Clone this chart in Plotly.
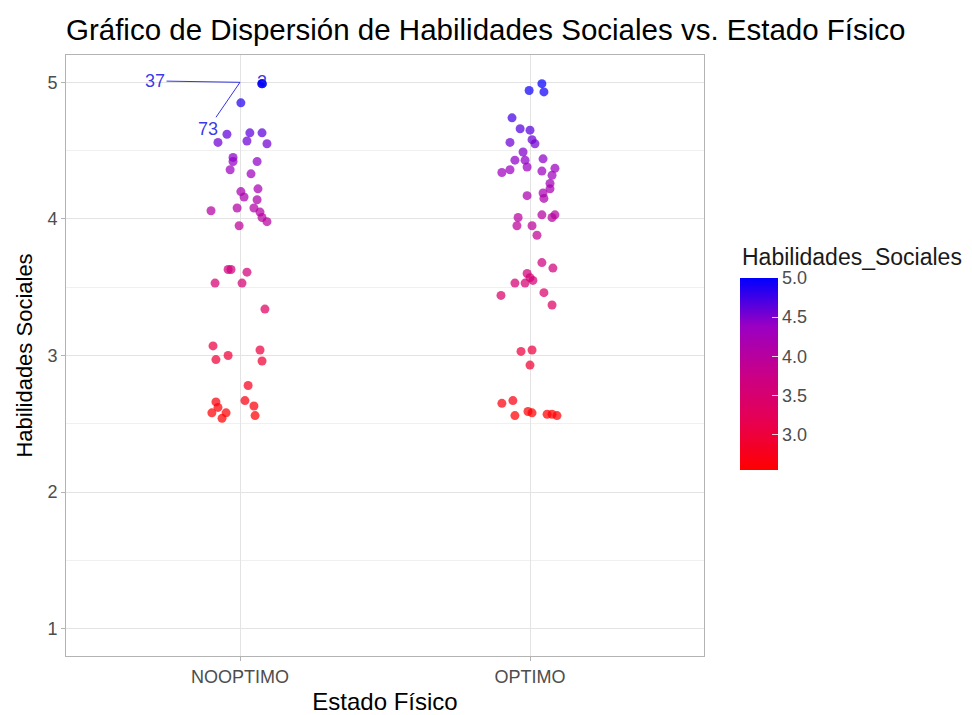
import plotly.graph_objects as go

categories = ["NOOPTIMO", "OPTIMO"]

# NOOPTIMO: values and horizontal jitter offsets
no_vals = [4.99, 4.99, 4.99, 4.85, 4.62, 4.56, 4.63, 4.63, 4.57, 4.55, 4.45, 4.42,
           4.36, 4.42, 4.33, 4.20, 4.16, 4.22, 4.14, 4.06, 4.08, 4.08, 4.05, 4.01,
           3.98, 3.95, 3.63, 3.63, 3.61, 3.53, 3.53, 3.34, 3.07, 3.04, 3.00, 2.97,
           2.96, 2.78, 2.67, 2.66, 2.62, 2.63, 2.58, 2.58, 2.54, 2.56]
no_jit = [0.075, 0.076, 0.077, 0.003, -0.045, -0.076, 0.034, 0.076, 0.024, 0.093, -0.024, -0.024,
          -0.034, 0.059, 0.038, 0.003, 0.014, 0.062, 0.059, -0.100, -0.010, 0.048, 0.069, 0.076,
          0.093, -0.003, -0.041, -0.031, 0.024, -0.086, 0.007, 0.086, -0.093, 0.069, -0.041, -0.083,
          0.076, 0.028, 0.017, -0.083, -0.076, 0.048, -0.097, -0.048, -0.062, 0.052]

# OPTIMO
op_vals = [4.94, 4.99, 4.93, 4.74, 4.66, 4.65, 4.56, 4.58, 4.55, 4.49, 4.43, 4.43,
           4.44, 4.38, 4.34, 4.36, 4.35, 4.37, 4.32, 4.26, 4.22, 4.17, 4.19, 4.15,
           4.01, 3.95, 4.03, 4.03, 4.01, 3.95, 3.88, 3.68, 3.64, 3.60, 3.57, 3.55,
           3.53, 3.53, 3.44, 3.46, 3.37, 3.03, 3.04, 2.93, 2.65, 2.67, 2.56, 2.59,
           2.58, 2.57, 2.57, 2.56]
op_jit = [-0.003, 0.041, 0.048, -0.062, -0.034, 0.0, -0.069, 0.007, 0.017, -0.024, -0.052, -0.017,
          0.045, -0.010, -0.097, -0.069, 0.041, 0.086, 0.076, 0.069, 0.069, -0.010, 0.045, 0.048,
          -0.041, -0.045, 0.041, 0.086, 0.076, 0.007, 0.024, 0.041, 0.079, -0.010, 0.0, 0.010,
          -0.017, -0.052, -0.100, 0.048, 0.076, -0.031, 0.007, 0.0, -0.097, -0.059, -0.052, -0.007,
          0.007, 0.059, 0.076, 0.093]

label_ids = ["37", "73", "3"]
label_text_pos = [(-0.293, 5.01), (-0.110, 4.66), (0.076, 5.0)]
label_point = (0, 5.0)

y_ticks = [1, 2, 3, 4, 5]
y_minor = [1.5, 2.5, 3.5, 4.5]
cb_ticks = [3.0, 3.5, 4.0, 4.5, 5.0]

xs = [0 + j for j in no_jit] + [1 + j for j in op_jit]
ys = no_vals + op_vals

colorscale = [[0, "#FF0000"], [0.25, "#E80050"], [0.5, "#C90088"], [0.75, "#9A00C3"], [1, "#0000FF"]]

FONT = "Liberation Sans, Arial, sans-serif"
LBL = "rgba(30,30,230,0.9)"

# page body has an 8px margin: figure coordinates = page coordinates - 8
W, H = 964, 707
L, R, T, B = 58, 268, 47, 59
PW = W - L - R
PH = H - T - B
CB_X = (732 - L) / PW

fig = go.Figure()
fig.add_trace(go.Scatter(
    x=xs, y=ys, mode="markers",
    marker=dict(
        size=9, color=ys, colorscale=colorscale, cmin=2.55, cmax=5.0, opacity=0.72,
        line=dict(width=0),
        colorbar=dict(
            x=CB_X, xanchor="left", xpad=0, ypad=0,
            y=(H - B - 462) / PH, yanchor="bottom",
            thickness=38, thicknessmode="pixels",
            len=192, lenmode="pixels",
            outlinewidth=0,
            tickvals=cb_ticks, ticktext=[f"{v:.1f}" for v in cb_ticks],
            ticks="inside", ticklen=6, tickcolor="rgba(255,255,255,0.8)",
            tickfont=dict(size=18, color="#4D4D4D", family=FONT),
        ),
    ),
    showlegend=False,
    hoverinfo="skip",
))

# colour-bar title
fig.add_annotation(x=CB_X, y=(H - B - 249) / PH, xref="paper", yref="paper",
                   xanchor="left", yanchor="middle", showarrow=False,
                   text="Habilidades_Sociales",
                   font=dict(size=23, color="#1a1a1a", family=FONT))

for lab, (tx, ty) in zip(label_ids, label_text_pos):
    if lab == "3":
        fig.add_annotation(x=tx, y=ty, text=lab, showarrow=False,
                           font=dict(size=18, color=LBL, family=FONT))
    else:
        fig.add_annotation(x=label_point[0], y=label_point[1], ax=tx, ay=ty,
                           axref="x", ayref="y", text=lab, showarrow=True,
                           arrowhead=0, arrowwidth=1, arrowcolor=LBL,
                           standoff=0, startstandoff=0,
                           font=dict(size=18, color=LBL, family=FONT))

fig.update_layout(
    width=W, height=H,
    margin=dict(l=L, r=R, t=T, b=B, autoexpand=False),
    plot_bgcolor="white", paper_bgcolor="white",
    font=dict(family=FONT),
    title=dict(text="Gráfico de Dispersión de Habilidades Sociales vs. Estado Físico",
               x=58 / W, xanchor="left", xref="container",
               y=1 - 22 / H, yanchor="middle", yref="container",
               font=dict(size=29.5, color="#000000", family=FONT)),
)
fig.update_xaxes(
    range=[-0.6, 1.6], tickvals=[0, 1], ticktext=categories,
    showgrid=True, gridcolor="#E3E3E3", gridwidth=1,
    zeroline=False, showline=True, mirror=True, linecolor="#B3B3B3", linewidth=1,
    ticks="outside", ticklen=4, tickcolor="#B3B3B3",
    tickfont=dict(size=18, color="#4D4D4D", family=FONT),
    title=dict(text="Estado Físico", font=dict(size=24, color="#000000", family=FONT), standoff=10),
)
fig.update_yaxes(
    range=[0.8, 5.2], tickvals=y_ticks,
    showgrid=True, gridcolor="#E3E3E3", gridwidth=1,
    minor=dict(tickvals=y_minor, showgrid=True, gridcolor="#F0F0F0", gridwidth=1),
    zeroline=False, showline=True, mirror=True, linecolor="#B3B3B3", linewidth=1,
    ticks="outside", ticklen=4, tickcolor="#B3B3B3",
    tickfont=dict(size=18, color="#4D4D4D", family=FONT),
    title=dict(text="Habilidades Sociales", font=dict(size=22, color="#000000", family=FONT), standoff=8),
)

fig.write_html("out.html")
